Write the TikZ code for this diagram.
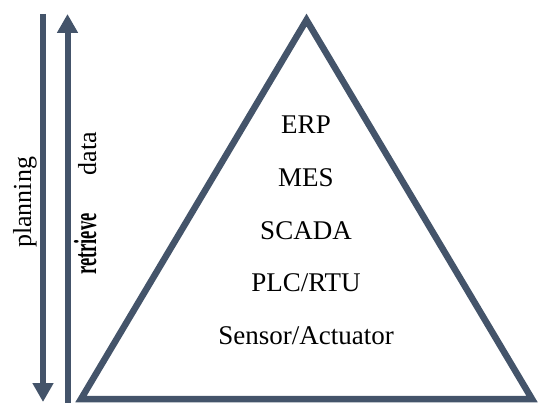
\documentclass[tikz,border=0pt]{standalone}
\usepackage{fontspec}
\setmainfont{Liberation Serif}
\usetikzlibrary{arrows.meta}
\definecolor{slate}{HTML}{44546A}
\begin{document}
\begin{tikzpicture}[x=1pt,y=-1pt,
  tri/.style={draw=slate,line width=6.5pt,line join=miter},
  bigarrow/.style={draw=slate,line width=6pt,-{Triangle[width=20pt,length=19pt]}},
  lvl/.style={font=\fontsize{27}{32}\selectfont,anchor=base,inner sep=0pt},
  side/.style={font=\fontsize{26}{31}\selectfont,rotate=90,inner sep=0pt}]
\useasboundingbox (0,0) rectangle (540,403);
% triangle
\coordinate (apex) at (306.5,20);
\coordinate (bl) at (81,399);
\coordinate (br) at (532,399);
\draw[tri] (apex) -- (bl) -- (br) -- cycle;
% arrows
\coordinate (pTop) at (43,14);
\coordinate (pBot) at (43,402);
\coordinate (rBot) at (67.5,403);
\coordinate (rTop) at (67.5,14);
\draw[bigarrow] (pTop) -- (pBot);
\draw[bigarrow] (rBot) -- (rTop);
% level labels
\node[lvl] (erp) at (306,134) {ERP};
\node[lvl] (mes) at (306,186.5) {MES};
\node[lvl] (scada) at (306,239) {SCADA};
\node[lvl] (plc) at (306,291.5) {PLC/RTU};
\node[lvl] (sens) at (306,344) {Sensor/Actuator};
% side labels
\node[side] (plan) at (25,202.5) {planning};
\node[side,anchor=base] (retr) at (96,203.5) {\scalebox{0.58}[1]{\fontsize{32}{38}\selectfont\textbf{retrieve}}\hspace{38pt}data};
\end{tikzpicture}
\end{document}
